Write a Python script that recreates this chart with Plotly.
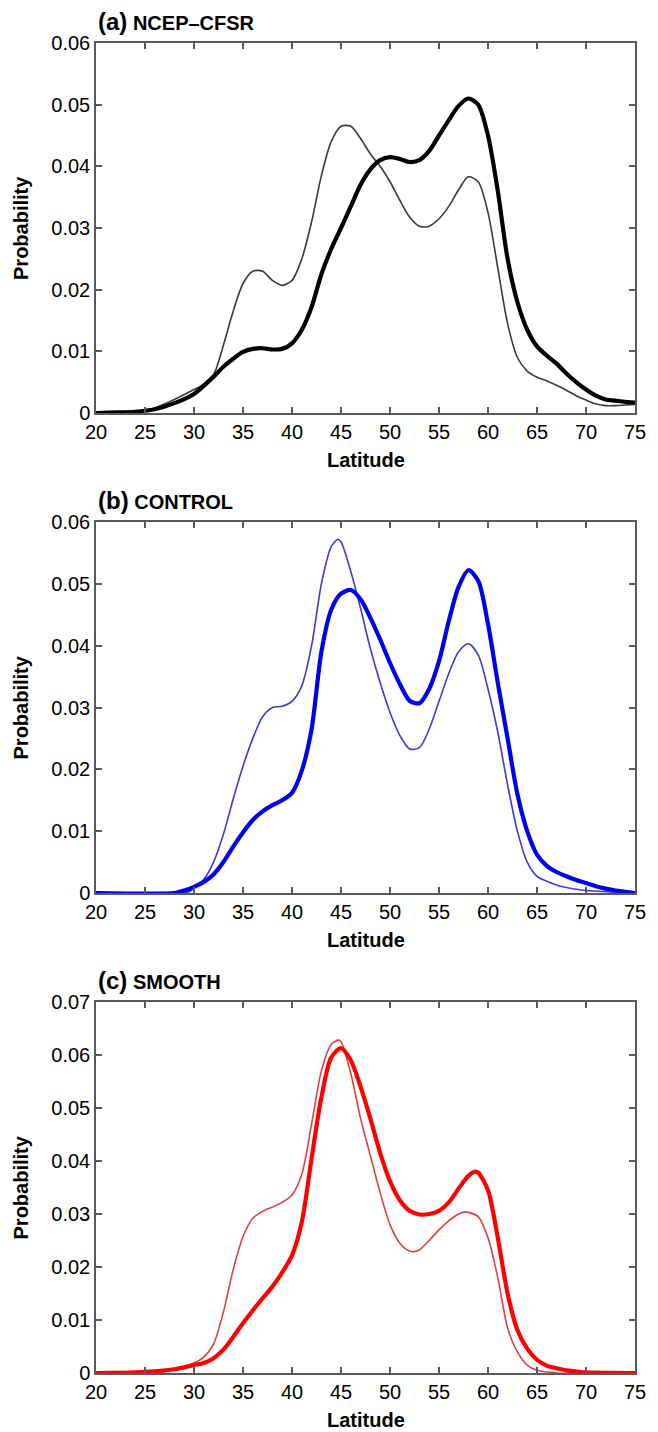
import plotly.graph_objects as go

# ---------------- data ----------------
lat_a_thick = [20, 22, 24, 26, 28, 30, 32, 33, 34, 35, 36, 37, 38, 39, 40, 41, 42, 43, 44, 45, 46, 47, 48, 49, 50,
               51, 52, 53, 54, 55, 56, 57, 58, 59, 60, 61, 62, 63, 64, 65, 66, 67, 68, 69, 70, 71, 72, 73, 74, 75]
prob_a_thick = [0.0, 0.0001, 0.0002, 0.0006, 0.0016, 0.0031, 0.0059, 0.0075, 0.0088, 0.0099, 0.0104, 0.0105, 0.0103,
                0.0104, 0.0113, 0.0135, 0.0172, 0.0225, 0.0266, 0.0300, 0.0335, 0.0370, 0.0395, 0.0410, 0.0415,
                0.0412, 0.0407, 0.0410, 0.0425, 0.0450, 0.0475, 0.0498, 0.0510, 0.0500, 0.0450, 0.0360, 0.0250,
                0.0180, 0.0135, 0.0108, 0.0093, 0.0080, 0.0064, 0.0050, 0.0038, 0.0028, 0.0022, 0.0020, 0.0018, 0.0017]

lat_a_thin = [20, 24, 25, 26, 28, 30, 31, 32, 33, 34, 35, 36, 37, 38, 39, 40, 41, 42, 43, 44, 45, 46, 47, 48, 49, 50,
              51, 52, 53, 54, 55, 56, 57, 58, 59, 60, 61, 62, 63, 64, 65, 66, 67, 68, 69, 70, 71, 72, 73, 74, 75]
prob_a_thin = [0.0, 0.0, 0.0002, 0.0008, 0.0022, 0.0038, 0.0047, 0.0062, 0.0110, 0.0165, 0.0210, 0.0230, 0.0230,
               0.0215, 0.0207, 0.0215, 0.0250, 0.0310, 0.0385, 0.0440, 0.0465, 0.0465, 0.0445, 0.0420, 0.0400, 0.0375,
               0.0345, 0.0318, 0.0303, 0.0303, 0.0315, 0.0335, 0.0362, 0.0383, 0.0375, 0.0325, 0.0235, 0.0145,
               0.0090, 0.0068, 0.0058, 0.0052, 0.0045, 0.0037, 0.0028, 0.0021, 0.0015, 0.0012, 0.0012, 0.0013, 0.0014]

lat_b_thick = [20, 28, 28.5, 29, 30, 31, 32, 33, 34, 35, 36, 37, 38, 39, 40, 41, 42, 43, 44, 45, 46, 47, 48, 49, 50,
               51, 52, 53, 54, 55, 56, 57, 58, 59, 60, 61, 62, 63, 64, 65, 66, 67, 68, 69, 70, 71, 72, 73, 74, 75]
prob_b_thick = [0.0, 0.0, 0.0002, 0.0004, 0.0010, 0.0018, 0.0030, 0.0050, 0.0075, 0.0098, 0.0118, 0.0132, 0.0142,
                0.0150, 0.0162, 0.0198, 0.0265, 0.0390, 0.0458, 0.0484, 0.0490, 0.0475, 0.0445, 0.0410, 0.0372,
                0.0338, 0.0311, 0.0307, 0.0330, 0.0375, 0.0440, 0.0495, 0.0522, 0.0505, 0.0435, 0.0340, 0.0250,
                0.0160, 0.0100, 0.0062, 0.0044, 0.0034, 0.0027, 0.0021, 0.0016, 0.0011, 0.0007, 0.0004, 0.0002, 0.0]

lat_b_thin = [20, 29, 29.5, 30, 31, 32, 33, 34, 35, 36, 37, 38, 39, 40, 41, 42, 43, 44, 44.7, 45, 46, 47, 48, 49, 50,
              51, 52, 53, 54, 55, 56, 57, 58, 59, 60, 61, 62, 63, 64, 65, 66, 67, 68, 69, 70, 72, 75]
prob_b_thin = [0.0, 0.0, 0.0002, 0.0008, 0.0022, 0.0050, 0.0095, 0.0152, 0.0205, 0.0250, 0.0285, 0.0300, 0.0302,
               0.0310, 0.0335, 0.0400, 0.0500, 0.0560, 0.0572, 0.0568, 0.0520, 0.0460, 0.0395, 0.0340, 0.0292,
               0.0255, 0.0233, 0.0235, 0.0265, 0.0310, 0.0355, 0.0390, 0.0403, 0.0385, 0.0330, 0.0260, 0.0175,
               0.0100, 0.0050, 0.0027, 0.0019, 0.0013, 0.0009, 0.0006, 0.0004, 0.0002, 0.0]

lat_c_thick = [20, 24, 26, 28, 30, 31, 32, 33, 34, 35, 36, 37, 38, 39, 40, 41, 42, 43, 44, 45, 46, 47, 48, 49, 50,
               51, 52, 53, 54, 55, 56, 57, 58, 58.7, 59, 60, 61, 62, 63, 64, 65, 66, 67, 68, 69, 70, 75]
prob_c_thick = [0.0, 0.0001, 0.0003, 0.0007, 0.0015, 0.0019, 0.0028, 0.0044, 0.0068, 0.0094, 0.0118, 0.0141, 0.0163,
                0.0190, 0.0222, 0.0285, 0.0405, 0.0520, 0.0595, 0.0613, 0.0590, 0.0540, 0.0480, 0.0415, 0.0362,
                0.0326, 0.0306, 0.0299, 0.0300, 0.0306, 0.0322, 0.0348, 0.0372, 0.0380, 0.0378, 0.0345, 0.0255,
                0.0150, 0.0081, 0.0046, 0.0025, 0.0014, 0.0009, 0.0005, 0.0003, 0.0001, 0.0]

lat_c_thin = [20, 26, 28, 30, 31, 32, 33, 34, 35, 36, 37, 38, 39, 40, 41, 42, 43, 44, 44.75, 45, 46, 47, 48, 49, 50,
              51, 52, 52.5, 53, 54, 55, 56, 57, 57.7, 58, 59, 60, 61, 62, 63, 64, 65, 66, 67, 75]
prob_c_thin = [0.0, 0.0001, 0.0006, 0.0019, 0.0030, 0.0055, 0.0115, 0.0195, 0.0257, 0.0292, 0.0305, 0.0313, 0.0322,
               0.0336, 0.0375, 0.0470, 0.0570, 0.0620, 0.0628, 0.0625, 0.0565, 0.0480, 0.0410, 0.0340, 0.0280,
               0.0245, 0.0230, 0.0229, 0.0232, 0.0250, 0.0270, 0.0287, 0.0300, 0.0304, 0.0303, 0.0295, 0.0255,
               0.0180, 0.0085, 0.0040, 0.0015, 0.0005, 0.0002, 0.0, 0.0]

x_ticks = [20, 25, 30, 35, 40, 45, 50, 55, 60, 65, 70, 75]
y_ticks_ab = [0, 0.01, 0.02, 0.03, 0.04, 0.05, 0.06]
y_ticks_c = [0, 0.01, 0.02, 0.03, 0.04, 0.05, 0.06, 0.07]
panel_letters = ["(a)", "(b)", "(c)"]
panel_names = ["NCEP\u2013CFSR", "CONTROL", "SMOOTH"]

# ---------------- figure ----------------
FONT = "Liberation Sans, Arial, Helvetica, sans-serif"
OFF = 8                      # default page body margin
W, H = 658 - OFF, 1432 - OFF
ML, MR, MT, MB = 96 - OFF, 16, 43 - OFF, 59
PH = H - MT - MB

def py(p):  # screenshot pixel (from top) -> paper y
    return (H - MB - (p - OFF)) / PH

def px(p):
    return (p - OFF - ML) / (W - ML - MR)

panels = [
    dict(thin=(lat_a_thin, prob_a_thin), thick=(lat_a_thick, prob_a_thick),
         thin_col="#3a3a3a", thick_col="#000000", ymax=0.06, yt=y_ticks_ab, top=43, bot=413),
    dict(thin=(lat_b_thin, prob_b_thin), thick=(lat_b_thick, prob_b_thick),
         thin_col="#3c3cd2", thick_col="#0000f0", ymax=0.06, yt=y_ticks_ab, top=522, bot=893),
    dict(thin=(lat_c_thin, prob_c_thin), thick=(lat_c_thick, prob_c_thick),
         thin_col="#e04040", thick_col="#ff0000", ymax=0.07, yt=y_ticks_c, top=1002, bot=1373),
]

fig = go.Figure()
layout = dict(
    width=W, height=H, margin=dict(l=ML, r=MR, t=MT, b=MB),
    paper_bgcolor="white", plot_bgcolor="white", showlegend=False,
    font=dict(family=FONT, color="black", size=20),
)
annotations = []
axcol = "#5a5a5a"
for i, p in enumerate(panels):
    n = "" if i == 0 else str(i + 1)
    xa, ya = "x" + n, "y" + n
    fig.add_trace(go.Scatter(x=p["thin"][0], y=p["thin"][1], mode="lines", xaxis=xa, yaxis=ya,
                             line=dict(color=p["thin_col"], width=1.6, shape="spline", smoothing=0.8)))
    fig.add_trace(go.Scatter(x=p["thick"][0], y=p["thick"][1], mode="lines", xaxis=xa, yaxis=ya,
                             line=dict(color=p["thick_col"], width=4.2, shape="spline", smoothing=0.8)))
    layout["xaxis" + n] = dict(
        domain=[0, 1], anchor=ya, range=[20, 75], tickvals=x_ticks, ticktext=[str(v) for v in x_ticks],
        ticks="inside", ticklen=6, tickwidth=1.5, tickcolor=axcol, showline=True, linecolor=axcol,
        linewidth=1.5, mirror="ticks", showgrid=False, zeroline=False,
        tickfont=dict(family=FONT, size=20, color="black"))
    layout["yaxis" + n] = dict(
        domain=[py(p["bot"]), py(p["top"])], anchor=xa, range=[0, p["ymax"]], tickvals=p["yt"],
        ticktext=["0" if v == 0 else f"{v:.2f}" for v in p["yt"]],
        ticks="inside", ticklen=6, tickwidth=1.5, tickcolor=axcol, showline=True, linecolor=axcol,
        linewidth=1.5, mirror="ticks", showgrid=False, zeroline=False,
        tickfont=dict(family=FONT, size=20, color="black"))
    # panel title
    annotations.append(dict(
        xref="paper", yref="paper", x=0, y=py(p["top"] - 22), xanchor="left", yanchor="middle",
        text=f"<b><span style='font-size:24px'>{panel_letters[i]}</span> {panel_names[i]}</b>",
        showarrow=False, font=dict(family=FONT, size=20, color="black")))
    # y title
    annotations.append(dict(
        xref="paper", yref="paper", x=px(20), y=py((p["top"] + p["bot"]) / 2), xanchor="center",
        yanchor="middle", text="<b>Probability</b>", textangle=-90, showarrow=False,
        font=dict(family=FONT, size=20, color="black")))
    # x title
    annotations.append(dict(
        xref="paper", yref="paper", x=0.5, y=py(p["bot"] + 47), xanchor="center", yanchor="middle",
        text="<b>Latitude</b>", showarrow=False, borderpad=0,
        font=dict(family=FONT, size=20, color="black")))

layout["annotations"] = annotations
fig.update_layout(**layout)
fig.write_html("out.html")
